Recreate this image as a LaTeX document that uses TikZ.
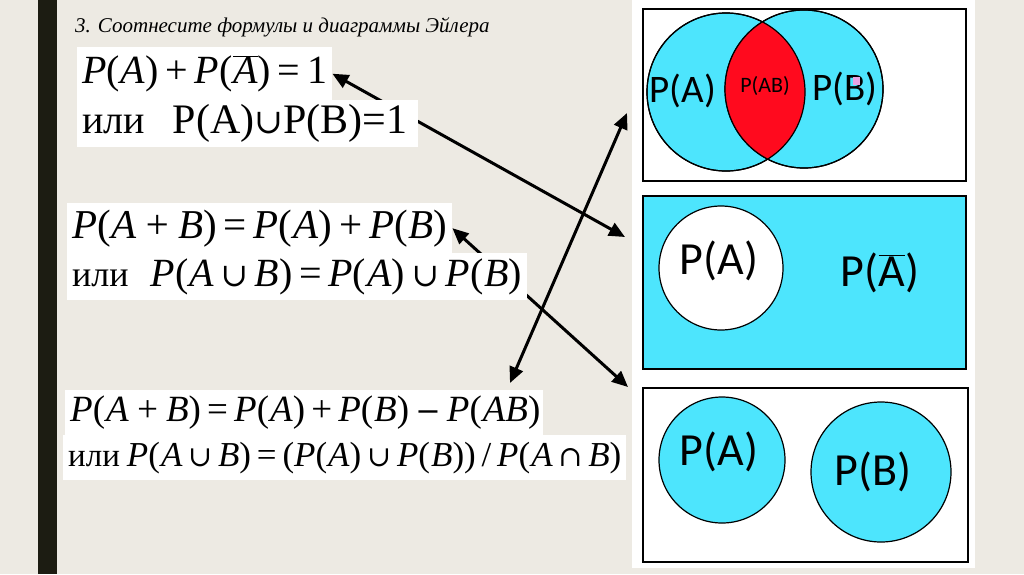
\documentclass[tikz,border=0pt]{standalone}
\usepackage{fontspec}
\setmainfont{Liberation Serif}
\newfontfamily\calib{Carlito}
\newfontfamily\symf[Scale=0.82]{DejaVu Serif}
\usepackage{tikz}
\usetikzlibrary{arrows.meta, positioning}
\definecolor{slidebg}{HTML}{EDEAE3}
\definecolor{barblack}{HTML}{1C1C12}
\definecolor{vennblue}{HTML}{4DE5FD}
\definecolor{vennred}{HTML}{FF0A1E}
\definecolor{dotpink}{HTML}{E9A3E3}
\newcommand{\pv}[1]{\textit{P}(\kern1pt\textit{#1})}
\newcommand{\fs}[1]{\fontsize{#1}{#1}\selectfont}
\newcommand{\cupv}{{\symf\upshape ∪}}
\newcommand{\capv}{{\symf\upshape ∩}}
\newcommand{\minv}{{\symf\upshape −}}
\tikzstyle{formbox} = [rectangle, fill=white, anchor=north west, inner xsep=5pt, inner ysep=0pt,
  align=left]
\tikzstyle{panel} = [rectangle, draw=black, line width=2pt, fill=white, anchor=north west, inner sep=0pt]
\tikzstyle{venn} = [circle, draw=black, line width=1.2pt, fill=vennblue, inner sep=0pt]
\tikzstyle{vlabel} = [font=\calib\fs{46}, anchor=base, inner sep=0pt]
\tikzstyle{arrow} = [line width=3pt, {Triangle[length=16pt,width=14pt]}-{Triangle[length=16pt,width=14pt]}]

\begin{document}
\begin{tikzpicture}[x=1pt, y=-1pt]
  \useasboundingbox (0,0) rectangle (1024,574);
  \fill[slidebg] (0,0) rectangle (1024,574);
  \fill[barblack] (38,0) rectangle (57,574);
  \fill[white] (632,0) rectangle (975,568);

  \node (title) [anchor=base west, inner sep=0pt, font=\itshape\fs{21}] at (75,32)
    {3. Соотнесите формулы и диаграммы Эйлера};

  % panel 1: intersecting sets
  \node (pnlOne) [panel, minimum width=323pt, minimum height=172pt] at (642,8) {};
  \node (vA) [venn, minimum size=158pt] at (726,92) {};
  \node (vB) [venn, minimum size=158pt] at (804,89) {};
  \begin{scope}
    \clip (vA.center) circle (79);
    \fill[vennred] (vB.center) circle (79);
  \end{scope}
  \draw[line width=1.2pt] (vA.center) circle (79) (vB.center) circle (79);
  \node (lA) [vlabel, font=\calib\fs{39}] at (683,102) {P(A)};
  \node (lAB) [vlabel, font=\calib\fs{22}] at (765,92) {P(AB)};
  \node (lB) [vlabel, font=\calib\fs{39}] at (845,100) {P(B)};
  \fill[dotpink] (853,77) rectangle (860,85);

  % panel 2: complement
  \node (pnlTwo) [panel, fill=vennblue, minimum width=323pt, minimum height=173pt] at (642,195) {};
  \node (cA) [venn, fill=white, minimum size=124pt] at (721,268) {};
  \node (lA2) [vlabel] at (719,274) {P(A)};
  \node (lNotA) [vlabel] at (880,286) {P($\overline{\mbox{A}}$)};

  % panel 3: disjoint sets
  \node (pnlThree) [panel, minimum width=325pt, minimum height=174pt] at (642,387) {};
  \node (dA) [venn, minimum size=126pt] at (722,460) {};
  \node (dB) [venn, minimum size=140pt] at (881,472) {};
  \node (lA3) [vlabel] at (719,465) {P(A)};
  \node (lB3) [vlabel] at (873,485) {P(B)};

  % arrow ends at the diagrams
  \coordinate (toTwo) at (625,237);
  \coordinate (toOne) at (627,113);
  \coordinate (toThree) at (628,387);
  \coordinate (atSum) at (510,383);

  \node (f1a) [formbox, text width=245pt, minimum height=53pt, font=\fs{40}] at (77,47)
    {\mbox{\pv{A}\,+\,\pv{$\overline{\mbox{A}}$}\,=\,1}};
  \node (f2a) [formbox, text width=375pt, minimum height=50pt, font=\fs{41}] at (67,203)
    {\mbox{\pv{A\,+\,B}\,=\,\pv{A}\,+\,\pv{B}}};

  \draw[arrow] (f1a.east) -- (toTwo);
  \draw[arrow] (toOne) -- (atSum);
  \draw[arrow] (f2a.east) -- (toThree);

  \node (f1b) [formbox, text width=331pt, minimum height=47pt, font=\fs{42}] at (77,100)
    {\mbox{{\fs{40}или}\hspace{28pt}P(A)\cupv P(B)=1}};
  \node (f2b) [formbox, text width=450pt, minimum height=47pt, font=\fs{40}] at (67,253)
    {\mbox{{\fs{36}или}\hspace{22pt}\pv{A\,\cupv\,B}\,=\,\pv{A}\,\cupv\,\pv{B}}};
  \node (f3a) [formbox, text width=468pt, minimum height=45pt, font=\fs{37}] at (65,390)
    {\mbox{\pv{A\,+\,B}\,=\,\pv{A}\,+\,\pv{B}\,\minv\,\pv{AB}}};
  \node (f3b) [formbox, text width=553pt, minimum height=45pt, font=\fs{35}] at (63,435)
    {\mbox{{\fs{33}или}\hspace{7pt}\pv{A\,\cupv\,B}\,=\,(\pv{A}\,\cupv\,\pv{B})\,/\,\pv{A\,\capv\,B}}};
\end{tikzpicture}
\end{document}
